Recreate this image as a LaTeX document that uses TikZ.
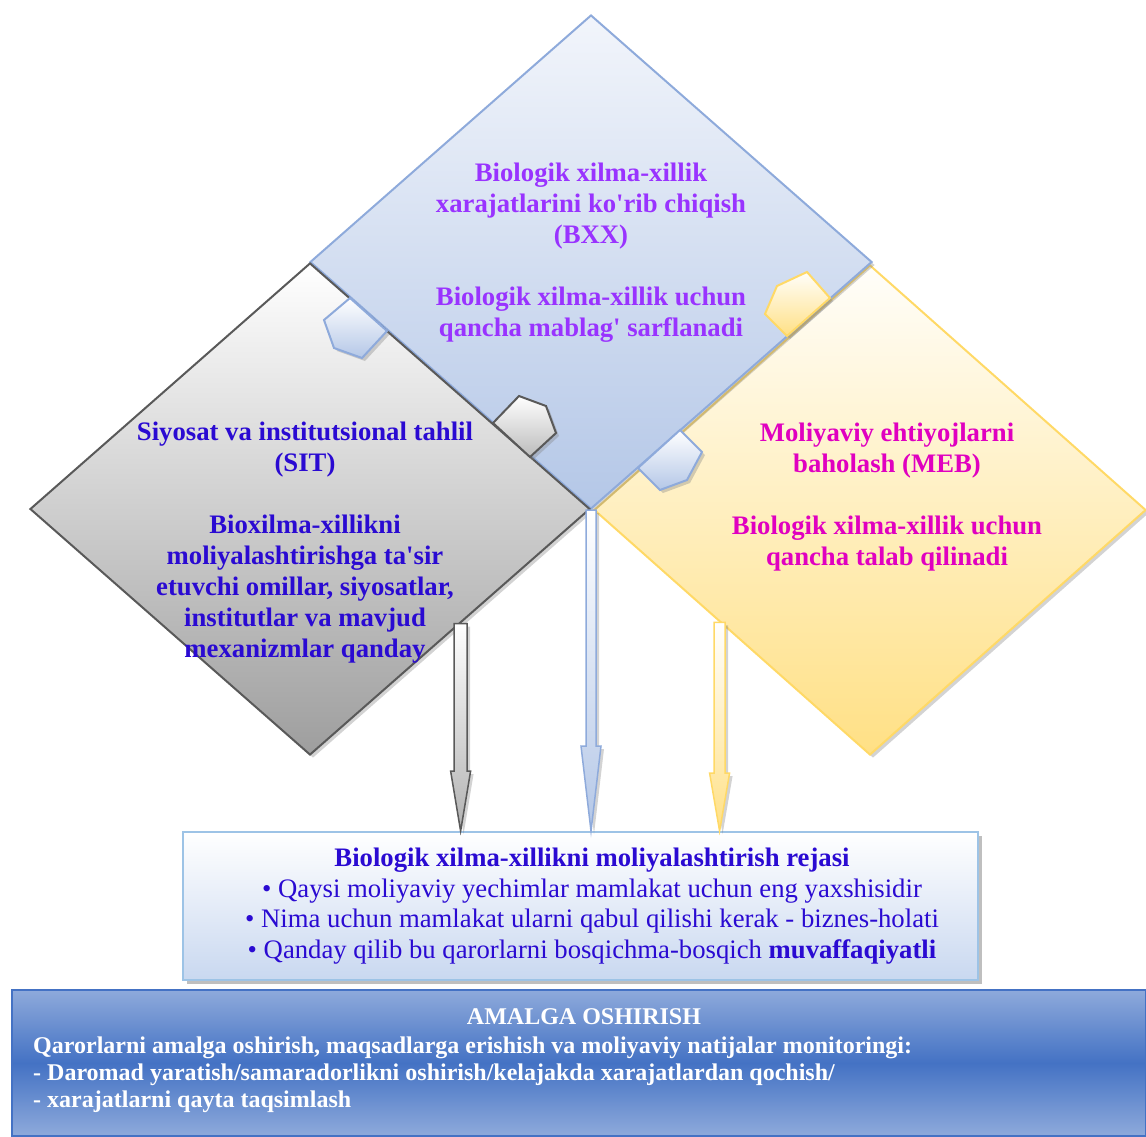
\documentclass[tikz,border=0pt]{standalone}
\usepackage{fontspec}
\setmainfont{Liberation Serif}
\usetikzlibrary{positioning,calc,shapes.geometric,shadows}

\definecolor{bxxline}{HTML}{8EAADB}
\definecolor{bxxtop}{HTML}{F2F5FB}
\definecolor{bxxbot}{HTML}{B4C7E7}
\definecolor{sitline}{HTML}{595959}
\definecolor{sitbot}{HTML}{9E9E9E}
\definecolor{mebline}{HTML}{FFD966}
\definecolor{mebtop}{HTML}{FFFEFA}
\definecolor{mebbot}{HTML}{FFE085}
\definecolor{violettxt}{HTML}{9933FF}
\definecolor{bluetxt}{HTML}{2A0AD2}
\definecolor{magtxt}{HTML}{E000C0}
\definecolor{planline}{HTML}{9DC3E6}
\definecolor{planbot}{HTML}{C9D8F0}
\definecolor{implmid}{HTML}{4472C4}
\definecolor{impledge}{HTML}{8EAADB}

\newcommand{\aps}{\textquotesingle}
% block arrow: style, start, tip, half shaft width, head length
\newcommand{\blockarr}[5]{%
  \draw[#1] let \p1=(#2), \p2=(#3) in
    (\x1-#4,\y1) -- (\x1-#4,\y2+#5) -- (\x1-10,\y2+#5) -- (\x2,\y2)
    -- (\x1+10,\y2+#5) -- (\x1+#4,\y2+#5) -- (\x1+#4,\y1) -- cycle;}

\tikzset{
  shad/.style={drop shadow={shadow xshift=3pt, shadow yshift=-3pt, opacity=0.35}},
  rhomb/.style={diamond, inner sep=0pt, line width=2pt, shad},
  dtext/.style={font=\bfseries\fontsize{26.7}{31}\selectfont, align=center, inner sep=0pt},
  bluetab/.style={draw=bxxline, line width=2pt, top color=white, bottom color=bxxbot, shad},
  graytab/.style={draw=sitline, line width=2pt, top color=white, bottom color=sitbot!70, shad},
  yellowtab/.style={draw=mebline, line width=2pt, top color=mebtop, bottom color=mebbot, shad},
  arr/.style={line width=1.5pt, shad},
  planbox/.style={draw=planline, line width=2pt, top color=white, bottom color=planbot,
    minimum width=795, minimum height=148,
    drop shadow={shadow xshift=4pt, shadow yshift=-4pt, opacity=0.5}},
  plantext/.style={align=center, text=bluetxt, inner sep=0pt,
    font=\fontsize{26.7}{30.5}\selectfont},
  implbox/.style={draw=implmid, line width=1.2pt, top color=impledge, bottom color=impledge,
    middle color=implmid, minimum width=1134, minimum height=146},
  impltxt/.style={text=white, font=\bfseries\fontsize{24}{27}\selectfont, inner sep=0pt}
}

\begin{document}
\begin{tikzpicture}[x=1pt, y=-1pt]
\useasboundingbox (0,0) rectangle (1146,1136);

% three diamonds
\node[rhomb, draw=mebline, top color=mebtop, bottom color=mebbot,
  minimum width=552, minimum height=490] (meb) at (870,510) {};
\node[rhomb, draw=bxxline, top color=bxxtop, bottom color=bxxbot,
  minimum width=562, minimum height=494] (bxx) at (591,262) {};
\node[rhomb, draw=sitline, top color=white, bottom color=sitbot,
  minimum width=560, minimum height=492] (sit) at (310,509) {};

% tabs
\draw[bluetab] (350,298) -- (324,320) -- (334,348) -- (362,358) -- (387,331) -- cycle;
\draw[graytab] (493,423) -- (519,396) -- (546,406) -- (556,433) -- (530,457) -- cycle;
\draw[yellowtab] (777,286) -- (807,272) -- (830,298) -- (787,336) -- (765,314) -- cycle;
\draw[bluetab] (680,430) -- (702,452) -- (687,480) -- (660,490) -- (638,468) -- cycle;

% texts
\node[dtext, text=violettxt] (bxxtxt) at (591,253)
  {Biologik xilma-xillik\\xarajatlarini ko\aps rib chiqish\\(BXX)\\[31pt]
   Biologik xilma-xillik uchun\\qancha mablag\aps{} sarflanadi};
\node[dtext, text=bluetxt] (sittxt) at (305,543)
  {Siyosat va institutsional tahlil\\(SIT)\\[31pt]
   Bioxilma-xillikni\\moliyalashtirishga ta\aps sir\\etuvchi omillar, siyosatlar,\\
   institutlar va mavjud\\mexanizmlar qanday};
\node[dtext, text=magtxt] (mebtxt) at (887,497)
  {Moliyaviy ehtiyojlarni\\baholash (MEB)\\[31pt]
   Biologik xilma-xillik uchun\\qancha talab qilinadi};

% plan box
\node[planbox] (plan) at (580,906) {};
\node[plantext] (plantxt) at ([xshift=12]plan.center)
  {\textbf{Biologik xilma-xillikni moliyalashtirish rejasi}\\
   • Qaysi moliyaviy yechimlar mamlakat uchun eng yaxshisidir\\
   • Nima uchun mamlakat ularni qabul qilishi kerak - biznes-holati\\
   • Qanday qilib bu qarorlarni bosqichma-bosqich \textbf{muvaffaqiyatli}};

% arrows
\coordinate (sitout) at ($(sit.east)!0.464!(sit.south)$);
\coordinate (bxxout) at (bxx.south);
\coordinate (mebout) at ($(meb.west)!0.457!(meb.south)$);
\blockarr{arr, draw=sitline, top color=white, bottom color=sitbot!80}{sitout}{sitout |- plan.north}{6.5}{60}
\blockarr{arr, draw=bxxline, top color=white, bottom color=bxxbot}{bxxout}{bxxout |- plan.north}{5}{85}
\blockarr{arr, draw=mebline, top color=white, bottom color=mebbot}{mebout}{mebout |- plan.north}{5.5}{58}

% implementation box
\node[implbox] (impl) at (579,1063) {};
\node[impltxt] (impltitle) at (584,1017) {AMALGA OSHIRISH};
\node[impltxt, anchor=west, align=left] (impltext) at (33,1075)
  {Qarorlarni amalga oshirish, maqsadlarga erishish va moliyaviy natijalar monitoringi:\\
   - Daromad yaratish/samaradorlikni oshirish/kelajakda xarajatlardan qochish/\\
   - xarajatlarni qayta taqsimlash};
\end{tikzpicture}
\end{document}
